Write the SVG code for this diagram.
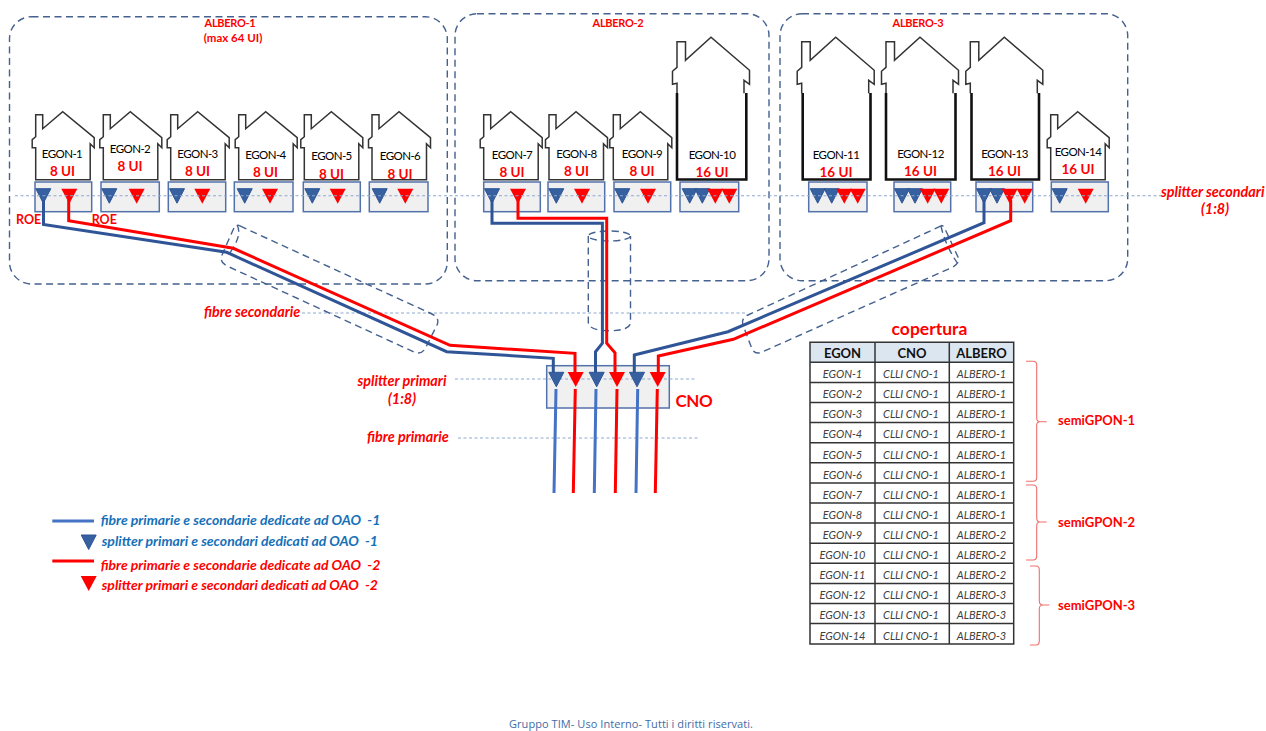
<svg xmlns="http://www.w3.org/2000/svg" width="1266" height="731" viewBox="0 0 1266 731">
<style>
text{font-family:Lato,"Open Sans",sans-serif}
.t{font-size:11.5px;letter-spacing:-.55px;fill:#000;text-anchor:middle;font-weight:400}
.u{font-size:13.5px;fill:#f00;text-anchor:middle;font-weight:700}
.lb{fill:#f00;font-weight:700;font-style:italic;font-size:14.400px}
.c{text-anchor:middle}
.rd{fill:#f00;font-weight:700}
.al{font-size:11px;letter-spacing:-.3px}
.house{fill:#fff;stroke:#333;stroke-width:1.5;stroke-linejoin:miter}
.bb{fill:none;stroke:#111;stroke-width:2.6}
.roe{fill:#f0f0f0;stroke:#5272ab;stroke-width:1.5}
.dash{fill:none;stroke:#44618f;stroke-width:1.4;stroke-dasharray:7 4.5}
.dot{fill:none;stroke:#8ea9d0;stroke-width:1.1;stroke-dasharray:3 2.5}
.fb{fill:none;stroke:#2f5597;stroke-width:3}
.fr{fill:none;stroke:#f00;stroke-width:3}
.pb{fill:none;stroke:#4472c4;stroke-width:3}
.tb{fill:#36609f;stroke:#2f5597;stroke-width:1}
.tr{fill:#f00}
.brace{fill:none;stroke:#f0706c;stroke-width:1.1}
.grid{fill:none;stroke:#333;stroke-width:1.5}
.th{font-size:13px;font-weight:700;fill:#111;text-anchor:middle}
.td{font-size:11px;font-style:italic;fill:#404040;text-anchor:middle}
.lg{font-size:14px;font-weight:700;font-style:italic;white-space:pre}
.sg{font-size:13px}
</style>
<defs>
<path id="sh" class="house" d="M-27,68V36H-30.500V28L-27,25V3H-20V17L0,0L31.500,26V36L27.500,32V68Z"/>
<path id="bh" class="house" d="M-34,56V46L-38.500,47V34L-34,30V4.500H-25.500V23L0,0L38.500,33V47L33,43V56"/>
<polygon id="tb" class="tb" points="-7.500,0 7.500,0 0,14.500"/>
<polygon id="tr" class="tr" points="-8,0 8,0 0,15"/>
</defs>

<g id="containers">
<rect id="albero-1" class="dash" x="9.500" y="16.700" width="437.800" height="267.300" rx="22"/>
<rect id="albero-2" class="dash" x="455" y="13.700" width="314" height="267" rx="22"/>
<rect id="albero-3" class="dash" x="780" y="13.700" width="347.700" height="267" rx="22"/>
<text class="rd c al" x="230" y="27">ALBERO-1</text>
<text class="rd c" x="233" y="42" font-size="11.500">(max 64 UI)</text>
<text class="rd c al" x="618" y="27">ALBERO-2</text>
<text class="rd c al" x="918" y="27">ALBERO-3</text>
</g>

<g id="egon-1"><use href="#sh" x="62.700" y="111.700"/><rect class="roe" x="35" y="182" width="56.700" height="29.700"/><text class="t" x="62" y="157.500">EGON-1</text><text class="u" x="62.500" y="175.500">8 UI</text><use href="#tb" x="43.300" y="188.700"/><use href="#tr" x="69.300" y="188.700"/></g>
<g id="egon-2"><use href="#sh" x="130.300" y="111.700"/><rect class="roe" x="101" y="182" width="58.300" height="29.700"/><text class="t" x="130" y="153">EGON-2</text><text class="u" x="130" y="171">8 UI</text><use href="#tb" x="109.300" y="188.700"/><use href="#tr" x="136.700" y="188.700"/></g>
<g id="egon-3"><use href="#sh" x="197.700" y="111.700"/><rect class="roe" x="168.300" y="182" width="57.400" height="29.700"/><text class="t" x="197.500" y="157.500">EGON-3</text><text class="u" x="197.500" y="175.500">8 UI</text><use href="#tb" x="177" y="188.700"/><use href="#tr" x="202.300" y="188.700"/></g>
<g id="egon-4"><use href="#sh" x="265.700" y="111.700"/><rect class="roe" x="234.300" y="182" width="58.700" height="29.700"/><text class="t" x="265.500" y="159">EGON-4</text><text class="u" x="265.500" y="176.500">8 UI</text><use href="#tb" x="244.700" y="188.700"/><use href="#tr" x="270" y="188.700"/></g>
<g id="egon-5"><use href="#sh" x="331.300" y="111.700"/><rect class="roe" x="303.300" y="182" width="57" height="29.700"/><text class="t" x="331.500" y="160">EGON-5</text><text class="u" x="331.500" y="178.500">8 UI</text><use href="#tb" x="312.300" y="188.700"/><use href="#tr" x="337.700" y="188.700"/></g>
<g id="egon-6"><use href="#sh" x="399" y="111.700"/><rect class="roe" x="369.300" y="182" width="58.700" height="29.700"/><text class="t" x="400" y="160">EGON-6</text><text class="u" x="400" y="178.500">8 UI</text><use href="#tb" x="379.700" y="188.700"/><use href="#tr" x="405.300" y="188.700"/></g>
<g id="egon-7"><use href="#sh" x="510.700" y="111.700"/><rect class="roe" x="483.700" y="182" width="56.600" height="29.700"/><text class="t" x="512" y="159">EGON-7</text><text class="u" x="512" y="177">8 UI</text><use href="#tb" x="492" y="188.700"/><use href="#tr" x="518" y="188.700"/></g>
<g id="egon-8"><use href="#sh" x="576" y="111.700"/><rect class="roe" x="548" y="182" width="56.700" height="29.700"/><text class="t" x="576.500" y="157.500">EGON-8</text><text class="u" x="576.500" y="175.500">8 UI</text><use href="#tb" x="556.300" y="188.700"/><use href="#tr" x="582" y="188.700"/></g>
<g id="egon-9"><use href="#sh" x="640.300" y="111.700"/><rect class="roe" x="614" y="182" width="56.700" height="29.700"/><text class="t" x="642" y="157.500">EGON-9</text><text class="u" x="642" y="175.500">8 UI</text><use href="#tb" x="622.300" y="188.700"/><use href="#tr" x="648" y="188.700"/></g>
<g id="egon-10"><use href="#bh" x="711" y="37.300"/><path class="bb" d="M677,93V179.500H746.300V93"/><rect class="roe" x="680" y="182" width="58.700" height="29.700"/><text class="t" x="712" y="159">EGON-10</text><text class="u" x="712" y="177">16 UI</text><use href="#tb" x="689.700" y="188.700"/><use href="#tb" x="702.300" y="188.700"/><use href="#tr" x="715.300" y="188.700"/><use href="#tr" x="729.300" y="188.700"/></g>
<g id="egon-11"><use href="#bh" x="835.700" y="37.300"/><path class="bb" d="M802.700,93V179.500H870.500V93"/><rect class="roe" x="808.700" y="182" width="58.300" height="29.700"/><text class="t" x="836" y="159">EGON-11</text><text class="u" x="836" y="177">16 UI</text><use href="#tb" x="817.700" y="188.700"/><use href="#tb" x="831.700" y="188.700"/><use href="#tr" x="844.300" y="188.700"/><use href="#tr" x="857.700" y="188.700"/></g>
<g id="egon-12"><use href="#bh" x="920" y="37.300"/><path class="bb" d="M886,93V179.500H955.500V93"/><rect class="roe" x="894" y="182" width="56.700" height="29.700"/><text class="t" x="920.500" y="157.500">EGON-12</text><text class="u" x="920.500" y="176">16 UI</text><use href="#tb" x="902" y="188.700"/><use href="#tb" x="915" y="188.700"/><use href="#tr" x="927.700" y="188.700"/><use href="#tr" x="941.300" y="188.700"/></g>
<g id="egon-13"><use href="#bh" x="1004.300" y="37.300"/><path class="bb" d="M971.500,93V179.500H1039V93"/><rect class="roe" x="976" y="182" width="56.700" height="29.700"/><text class="t" x="1004.500" y="157.500">EGON-13</text><text class="u" x="1004.500" y="176">16 UI</text><use href="#tb" x="984" y="188.700"/><use href="#tb" x="997" y="188.700"/><use href="#tr" x="1009.700" y="188.700"/><use href="#tr" x="1024.700" y="188.700"/></g>
<g id="egon-14"><use href="#sh" x="1077.700" y="111.700"/><rect class="roe" x="1051.300" y="182" width="57" height="29.700"/><text class="t" x="1078" y="156">EGON-14</text><text class="u" x="1078" y="174">16 UI</text><use href="#tb" x="1059.700" y="188.700"/><use href="#tr" x="1085.700" y="188.700"/></g>

<g id="cno"><rect class="roe" x="546.700" y="365.700" width="122.600" height="42.300"/>
<text class="rd" x="675.500" y="407" font-size="17" letter-spacing="-.4">CNO</text></g>

<g id="guides">
<path class="dot" d="M15,195.700H1161"/>
<path class="dot" d="M302,313H745"/>
<path class="dot" d="M455,379H695"/>
<path class="dot" d="M458,438H698"/>
</g>

<g id="cables">
<path class="dash" d="M240,226L432,314Q440,318 437,325L425,349Q421,355 414,352L227,266Q219,262 222,255L233,230Q236,223 240,226ZM237,225Q243,235 229,254"/>
<path class="dash" d="M588.300,236V322Q588.300,330.700 609.300,330.700Q630.500,330.700 630.500,322V236"/>
<ellipse class="dash" cx="609.300" cy="236" rx="21" ry="5"/>
<path class="dash" d="M941,226L748,315Q741,318 743,325L752,349Q755,355 762,352L953,267Q960,263 958,257L946,231Q943,224 941,226ZM941,226Q945,245 958,264"/>
</g>

<g id="connectors">
<path class="fb" d="M43.500,200V224.500L226.700,252.300L446.700,351.700L553.300,358.300V374"/>
<path class="fr" d="M68.700,200V220.700L233.300,248.300L450,345.300L575,353.300V374"/>
<path class="fb" d="M492,200V223.300H602.400V343.300L595.500,351.700V375"/>
<path class="fr" d="M518,200V218.300H606.700V343.300L615,352.700V375"/>
<path class="fb" d="M984,200V222.700L728,331.700L634.300,355V375"/>
<path class="fr" d="M1010.700,200V220.700L733.300,339.300L658.300,356V375"/>
<path class="pb" d="M556,389L554,493"/>
<path class="fr" d="M575.300,389L573.300,493"/>
<path class="pb" d="M596,389L594.300,493"/>
<path class="fr" d="M617,389L615.300,493"/>
<path class="pb" d="M637.700,389L636,493"/>
<path class="fr" d="M657.300,389L655.300,493"/>
</g>
<g id="cno-splitters">
<use href="#tb" x="556.300" y="372.300"/><use href="#tr" x="575.700" y="372"/><use href="#tb" x="596.700" y="372.300"/><use href="#tr" x="617" y="372"/><use href="#tb" x="637" y="372.300"/><use href="#tr" x="657.700" y="372"/>
</g>

<g id="labels">
<text class="rd" x="16" y="223.500" font-size="12.500">ROE</text>
<text class="rd" x="91.700" y="223.500" font-size="12.500">ROE</text>
<text class="lb" x="204" y="317">fibre secondarie</text>
<text class="lb c" x="402" y="386">splitter primari</text>
<text class="lb c" x="402" y="404">(1:8)</text>
<text class="lb" x="367" y="442">fibre primarie</text>
<text class="lb" x="1161" y="197">splitter secondari</text>
<text class="lb c" x="1215" y="213.500">(1:8)</text>
</g>

<g id="table">
<text class="rd c" x="929.500" y="335" font-size="17.500">copertura</text>
<rect x="810" y="342.300" width="203.700" height="20" fill="#dce6f1"/>
<path class="grid" d="M810,342.300H1013.700V644H810ZM875,342.300V644M949.300,342.300V644M810,362.300H1013.700M810,382.400H1013.700M810,402.500H1013.700M810,422.600H1013.700M810,442.700H1013.700M810,462.800H1013.700M810,482.900H1013.700M810,503H1013.700M810,523.100H1013.700M810,543.200H1013.700M810,563.300H1013.700M810,583.400H1013.700M810,603.500H1013.700M810,623.600H1013.700"/>
<text class="th" x="842.500" y="358">EGON</text><text class="th" x="912" y="358">CNO</text><text class="th" x="981.500" y="358">ALBERO</text>
<g class="rows">
<text class="td" x="842.500" y="378">EGON-1</text><text class="td" x="911" y="378">CLLI CNO-1</text><text class="td" x="981.500" y="378">ALBERO-1</text>
<text class="td" x="842.500" y="398">EGON-2</text><text class="td" x="911" y="398">CLLI CNO-1</text><text class="td" x="981.500" y="398">ALBERO-1</text>
<text class="td" x="842.500" y="418">EGON-3</text><text class="td" x="911" y="418">CLLI CNO-1</text><text class="td" x="981.500" y="418">ALBERO-1</text>
<text class="td" x="842.500" y="438">EGON-4</text><text class="td" x="911" y="438">CLLI CNO-1</text><text class="td" x="981.500" y="438">ALBERO-1</text>
<text class="td" x="842.500" y="458.500">EGON-5</text><text class="td" x="911" y="458.500">CLLI CNO-1</text><text class="td" x="981.500" y="458.500">ALBERO-1</text>
<text class="td" x="842.500" y="478.500">EGON-6</text><text class="td" x="911" y="478.500">CLLI CNO-1</text><text class="td" x="981.500" y="478.500">ALBERO-1</text>
<text class="td" x="842.500" y="498.500">EGON-7</text><text class="td" x="911" y="498.500">CLLI CNO-1</text><text class="td" x="981.500" y="498.500">ALBERO-1</text>
<text class="td" x="842.500" y="518.500">EGON-8</text><text class="td" x="911" y="518.500">CLLI CNO-1</text><text class="td" x="981.500" y="518.500">ALBERO-1</text>
<text class="td" x="842.500" y="539">EGON-9</text><text class="td" x="911" y="539">CLLI CNO-1</text><text class="td" x="981.500" y="539">ALBERO-2</text>
<text class="td" x="842.500" y="559">EGON-10</text><text class="td" x="911" y="559">CLLI CNO-1</text><text class="td" x="981.500" y="559">ALBERO-2</text>
<text class="td" x="842.500" y="579">EGON-11</text><text class="td" x="911" y="579">CLLI CNO-1</text><text class="td" x="981.500" y="579">ALBERO-2</text>
<text class="td" x="842.500" y="599">EGON-12</text><text class="td" x="911" y="599">CLLI CNO-1</text><text class="td" x="981.500" y="599">ALBERO-3</text>
<text class="td" x="842.500" y="619">EGON-13</text><text class="td" x="911" y="619">CLLI CNO-1</text><text class="td" x="981.500" y="619">ALBERO-3</text>
<text class="td" x="842.500" y="639.500">EGON-14</text><text class="td" x="911" y="639.500">CLLI CNO-1</text><text class="td" x="981.500" y="639.500">ALBERO-3</text>
</g>
</g>

<g id="braces">
<path class="brace" d="M1026,361.300H1033Q1036.700,361.300 1036.700,365V418Q1036.700,421.700 1040,421.700H1046.700H1040Q1036.700,421.700 1036.700,425V477.500Q1036.700,481.300 1033,481.300H1026"/>
<path class="brace" d="M1026,485H1033Q1036.700,485 1036.700,489V518Q1036.700,522 1040,522H1046.700H1040Q1036.700,522 1036.700,526V556Q1036.700,560 1033,560H1026"/>
<path class="brace" d="M1030,566H1036Q1039.300,566 1039.300,570V601Q1039.300,605 1043,605H1049.300H1043Q1039.300,605 1039.300,609V641Q1039.300,645 1036,645H1030"/>
<text class="rd sg" x="1058" y="425">semiGPON-1</text>
<text class="rd sg" x="1058" y="527">semiGPON-2</text>
<text class="rd sg" x="1058" y="609.500">semiGPON-3</text>
</g>

<g id="legend">
<path class="pb" d="M52.300,521H94"/>
<text class="lg" x="100.700" y="525" fill="#1670b8">fibre primarie e secondarie dedicate ad OAO  -1</text>
<use href="#tb" x="88.700" y="535"/>
<text class="lg" x="101.700" y="546" fill="#1670b8">splitter primari e secondari dedicati ad OAO  -1</text>
<path class="fr" d="M52.300,561H94"/>
<text class="lg" x="100.700" y="569.500" fill="#f00">fibre primarie e secondarie dedicate ad OAO  -2</text>
<use href="#tr" x="88.700" y="576"/>
<text class="lg" x="101.700" y="589.500" fill="#f00">splitter primari e secondari dedicati ad OAO  -2</text>
</g>

<text id="footer" x="509" y="728" font-size="11" fill="#3f6ca6" style="font-family:'Open Sans',sans-serif" textLength="244">Gruppo TIM- Uso Interno- Tutti i diritti riservati.</text>
</svg>
